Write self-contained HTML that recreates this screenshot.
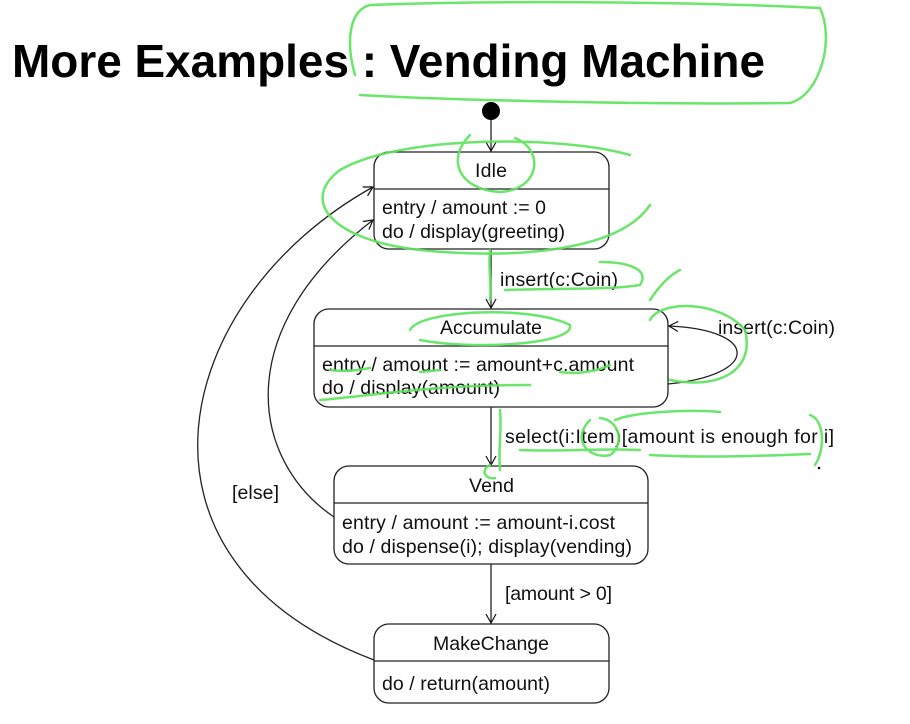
<!DOCTYPE html>
<html><head><meta charset="utf-8"><style>
body{margin:0;background:#fff;width:910px;height:724px;overflow:hidden}
svg{display:block}
text{font-family:"Liberation Sans",Arial,sans-serif;fill:#111}
</style></head><body>
<svg width="910" height="724" viewBox="0 0 910 724" xmlns="http://www.w3.org/2000/svg">
<defs><marker id="a" markerWidth="12" markerHeight="12" refX="10" refY="6" orient="auto" markerUnits="userSpaceOnUse"><path d="M1,1 L10,6 L1,11" fill="none" stroke="#111" stroke-width="1.2"/></marker></defs>
<text x="12" y="77" font-size="46" font-weight="bold" textLength="753" lengthAdjust="spacingAndGlyphs" style="fill:#000">More Examples : Vending Machine</text>
<circle cx="491" cy="111" r="9" fill="#000"/>
<g fill="none" stroke="#222" stroke-width="1.3">
<rect x="374" y="152" width="235" height="97" rx="15"/><line x1="374" y1="189" x2="609" y2="189"/>
<rect x="314" y="309" width="354" height="98" rx="15"/><line x1="314" y1="346" x2="668" y2="346"/>
<rect x="334" y="466" width="314" height="98" rx="15"/><line x1="334" y1="503" x2="648" y2="503"/>
<rect x="374" y="624" width="235" height="79" rx="15"/><line x1="374" y1="661" x2="609" y2="661"/>
<line x1="491" y1="120" x2="491" y2="151" marker-end="url(#a)"/>
<line x1="491" y1="249" x2="491" y2="308" marker-end="url(#a)"/>
<line x1="491" y1="407" x2="491" y2="465" marker-end="url(#a)"/>
<line x1="491" y1="564" x2="491" y2="623" marker-end="url(#a)"/>
<path d="M668,384 C760,375 760,330 669,326" marker-end="url(#a)"/>
<path d="M334,517 C250,460 230,330 373,220" marker-end="url(#a)"/>
<path d="M374,660 C110,560 170,300 373,187" marker-end="url(#a)"/>
</g>
<g font-size="19.5" lengthAdjust="spacingAndGlyphs">
<text x="475" y="177" textLength="32">Idle</text>
<text x="440" y="334" textLength="102">Accumulate</text>
<text x="469" y="492" textLength="45">Vend</text>
<text x="433" y="650" textLength="116">MakeChange</text>
<text x="382" y="214" textLength="164">entry / amount := 0</text>
<text x="382" y="238" textLength="183">do / display(greeting)</text>
<text x="322" y="371" textLength="312">entry / amount := amount+c.amount</text>
<text x="322" y="394" textLength="178">do / display(amount)</text>
<text x="342" y="529" textLength="273">entry / amount := amount-i.cost</text>
<text x="342" y="553" textLength="290">do / dispense(i); display(vending)</text>
<text x="382" y="690" textLength="168">do / return(amount)</text>
<text x="500" y="286" textLength="118">insert(c:Coin)</text>
<text x="718" y="334" textLength="117">insert(c:Coin)</text>
<text x="505" y="443" textLength="329">select(i:Item)[amount is enough for i]</text>
<text x="505" y="600" textLength="107">[amount &gt; 0]</text>
<text x="232" y="499" textLength="47">[else]</text>
</g>
<g fill="none" stroke="#5be35b" stroke-width="2.5" stroke-linecap="round" opacity="0.9">
<path d="M355,75 C345,40 350,10 370,5 C500,0 700,2 820,8 C835,40 820,95 790,103 C650,105 450,100 360,95"/>
<path d="M630,155 C560,135 400,135 340,170 C300,200 330,240 420,250 C520,260 620,250 650,205"/>
<path d="M470,135 C445,160 460,190 500,192 C540,190 545,150 515,138"/>
<path d="M490,250 C488,270 492,285 490,300"/>
<path d="M505,290 C560,288 610,290 640,285 C650,270 630,262 600,262"/>
<path d="M650,320 C660,300 720,300 745,330 C755,370 720,390 670,380"/>
<path d="M410,330 C420,310 530,305 570,325 C575,345 470,350 420,340"/>
<path d="M650,300 C660,285 670,275 680,270"/>
<path d="M320,400 C380,395 430,385 530,385"/>
<path d="M330,370 C345,372 360,370 370,368 M420,372 L440,370 M560,372 C580,375 600,370 610,365"/>
<path d="M500,410 C502,430 498,450 500,470 M490,465 C480,470 485,480 495,478"/>
<path d="M520,450 C560,452 600,448 640,450 M650,455 C700,458 760,456 810,454"/>
<path d="M590,420 C570,440 590,460 610,455 C625,445 620,420 600,418 M615,420 C640,410 700,410 720,412"/>
<path d="M810,415 C825,420 825,450 815,465"/>
</g>
<circle cx="819" cy="468" r="1.3" fill="#111"/>
</svg>
</body></html>
